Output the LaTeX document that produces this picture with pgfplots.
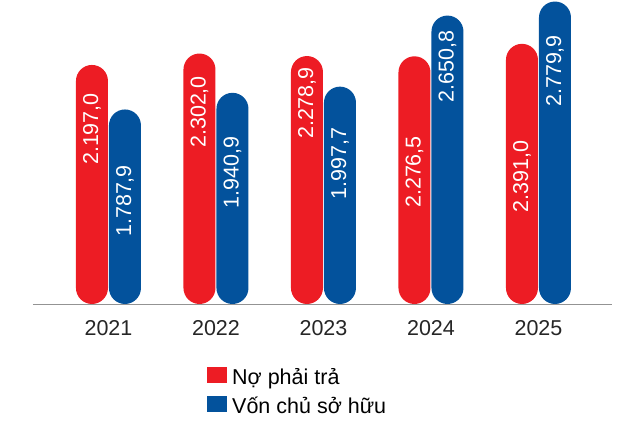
\documentclass[border=0pt]{standalone}
\usepackage{fontspec}
\setmainfont{Liberation Sans}
\usepackage{pgfplots}
\usepackage{pgfplotstable}
\pgfplotsset{compat=1.18}

\definecolor{nored}{HTML}{ED1C24}
\definecolor{vonblue}{HTML}{03529C}
\newcommand{\chartfont}{\fontsize{21.5}{25}\selectfont}

\pgfplotsset{
  sqlegend/.style={legend image code/.code={
    \fill[##1, sharp corners] (0pt,-6pt) rectangle (20pt,10pt);}},
}

% bar values (ty dong)
\pgfplotstableread{
x  no     von
0  2197.0 1787.9
1  2302.0 1940.9
2  2278.9 1997.7
3  2276.5 2650.8
4  2391.0 2779.9
}\bars

% where each value label sits inside its bar
\pgfplotstableread{
x        pos   val
-0.1535  1608  2197.0
0.1535   947   1787.9
0.8465   1765  2302.0
1.1535   1209  1940.9
1.8465   1847  2278.9
2.1535   1291  1997.7
2.8465   1213  2276.5
3.1535   2183  2650.8
3.8465   1172  2391.0
4.1535   2142  2779.9
}\labels

\begin{document}
\begin{tikzpicture}
\begin{axis}[
  scale only axis,
  width=579pt, height=304pt,
  xmin=-0.702, xmax=4.684,
  ymin=0, ymax=2794,
  axis x line*=bottom,
  axis y line=none,
  x axis line style={draw=gray!85, line width=0.8pt, -},
  xtick={0,1,2,3,4},
  xticklabels={2021,2022,2023,2024,2025},
  xtick style={draw=none},
  xticklabel style={font=\chartfont, text=black!85, yshift=-13pt},
  legend cell align=left,
  legend style={draw=none, fill=none, font=\chartfont,
    at={(rel axis cs:0.3005,-0.205)}, anchor=north west,
    inner sep=0pt, row sep=7pt, column sep=3pt},
  clip=false,
]
\addplot[ybar, bar width=32pt, bar shift=-16.5pt, fill=nored, draw=none,
  rounded corners=16pt, sqlegend]
  table[x=x, y=no] {\bars};
\addlegendentry{Nợ phải trả}
\addplot[ybar, bar width=32pt, bar shift=16.5pt, fill=vonblue, draw=none,
  rounded corners=16pt, sqlegend]
  table[x=x, y=von] {\bars};
\addlegendentry{Vốn chủ sở hữu}
\addplot[draw=none, forget plot, point meta=explicit,
  nodes near coords={\pgfmathprintnumber[fixed, fixed zerofill, precision=1,
    use comma, 1000 sep={.}, assume math mode=true]{\pgfplotspointmeta}},
  every node near coord/.style={anchor=center, rotate=90, text=white,
    font=\chartfont, inner sep=0pt}]
  table[x=x, y=pos, meta=val] {\labels};
\end{axis}
\pgfresetboundingbox
\path[use as bounding box] ([xshift=-33pt,yshift=-117.5pt]current axis.south west)
  rectangle ([xshift=9pt]current axis.north east);
\end{tikzpicture}
\end{document}
